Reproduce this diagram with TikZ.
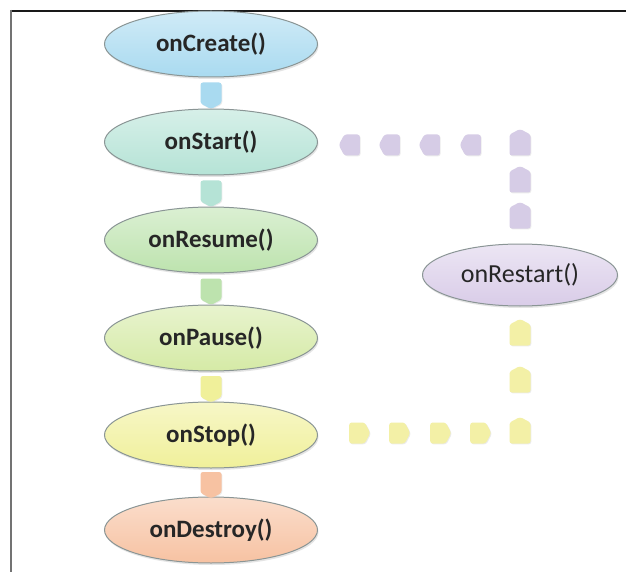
\documentclass[tikz,border=0pt]{standalone}
\usepackage{fontspec}
\setmainfont{Carlito}
\usetikzlibrary{shapes.geometric,shapes.symbols,shadows,calc}
\definecolor{cCreate}{HTML}{A9DAF0}
\definecolor{cStart}{HTML}{B5E3D6}
\definecolor{cResume}{HTML}{BDE3AE}
\definecolor{cPause}{HTML}{D5EAA6}
\definecolor{cStop}{HTML}{F0F09A}
\definecolor{cDestroy}{HTML}{F7C2A2}
\definecolor{cRestart}{HTML}{D9CCE8}
\definecolor{cPurple}{HTML}{D6CCE6}
\definecolor{cYellow}{HTML}{F3F0A6}
\definecolor{cEdge}{HTML}{8A9595}
\tikzset{
  phase/.style={ellipse, draw=cEdge, line width=1pt, minimum width=213pt, minimum height=66pt,
    inner sep=0pt, font=\bfseries\fontsize{25}{28}\selectfont, text=black!85,
    drop shadow={shadow xshift=1pt, shadow yshift=-2pt, fill=black!30, opacity=0.35}},
  chev/.style={signal, signal pointer angle=125, draw=none, minimum width=21pt, minimum height=21pt, inner sep=0pt,
    rounded corners=2.5pt,
    drop shadow={shadow xshift=0.8pt, shadow yshift=-0.8pt, fill=black!25, opacity=0.3}},
}
\begin{document}
\begin{tikzpicture}[x=1pt,y=-1pt]
\useasboundingbox (0,0) rectangle (626,572);
\fill[white] (0,0) rectangle (626,572);
% frame
\draw[black!90, line width=2.6pt] (10,11) -- (626,11);
\draw[black!55, line width=1.8pt] (11,10) -- (11,572);
% phases
\node[phase, top color=cCreate!55, bottom color=cCreate] (create) at (211,44) {onCreate()};
\node[phase, top color=cStart!55, bottom color=cStart] (start) at (211,142) {onStart()};
\node[phase, top color=cResume!55, bottom color=cResume] (resume) at (211,240) {onResume()};
\node[phase, top color=cPause!55, bottom color=cPause] (pause) at (211,338) {onPause()};
\node[phase, top color=cStop!55, bottom color=cStop] (stop) at (211,435) {onStop()};
\node[phase, top color=cDestroy!55, bottom color=cDestroy] (destroy) at (211,530) {onDestroy()};
\node[phase, minimum width=195pt, minimum height=62pt, font=\fontsize{26}{29}\selectfont,
  top color=cRestart!50, bottom color=cRestart] (restart) at (520,275) {onRestart()};
% vertical connectors
\node[chev, signal to=south, fill=cCreate] (c1) at ($(create.south)!0.5!(start.north)$) {};
\node[chev, signal to=south, fill=cStart] (c2) at ($(start.south)!0.5!(resume.north)$) {};
\node[chev, signal to=south, fill=cResume] (c3) at ($(resume.south)!0.5!(pause.north)$) {};
\node[chev, signal to=south, fill=cStop] (c4) at ($(pause.south)!0.5!(stop.north)$) {};
\node[chev, signal to=south, fill=cDestroy] (c5) at ($(stop.south)!0.5!(destroy.north)$) {};
% purple path: onRestart -> onStart
\node[chev, signal to=north, fill=cPurple] (p1) at (520,218) {};
\node[chev, signal to=north, fill=cPurple] (p2) at (520,182) {};
\node[chev, signal to=north, fill=cPurple] (p3) at (520,145) {};
\node[chev, signal to=west, fill=cPurple] (p4) at (473,145) {};
\node[chev, signal to=west, fill=cPurple] (p5) at (432,145) {};
\node[chev, signal to=west, fill=cPurple] (p6) at (392,145) {};
\node[chev, signal to=west, fill=cPurple] (p7) at (352,145) {};
% yellow path: onStop -> onRestart
\node[chev, signal to=east, fill=cYellow] (y1) at (357,433) {};
\node[chev, signal to=east, fill=cYellow] (y2) at (397,433) {};
\node[chev, signal to=east, fill=cYellow] (y3) at (438,433) {};
\node[chev, signal to=east, fill=cYellow] (y4) at (478,433) {};
\node[chev, signal to=north, fill=cYellow] (y5) at (520,433) {};
\node[chev, signal to=north, fill=cYellow] (y6) at (520,382) {};
\node[chev, signal to=north, fill=cYellow] (y7) at (520,335) {};
\end{tikzpicture}
\end{document}
